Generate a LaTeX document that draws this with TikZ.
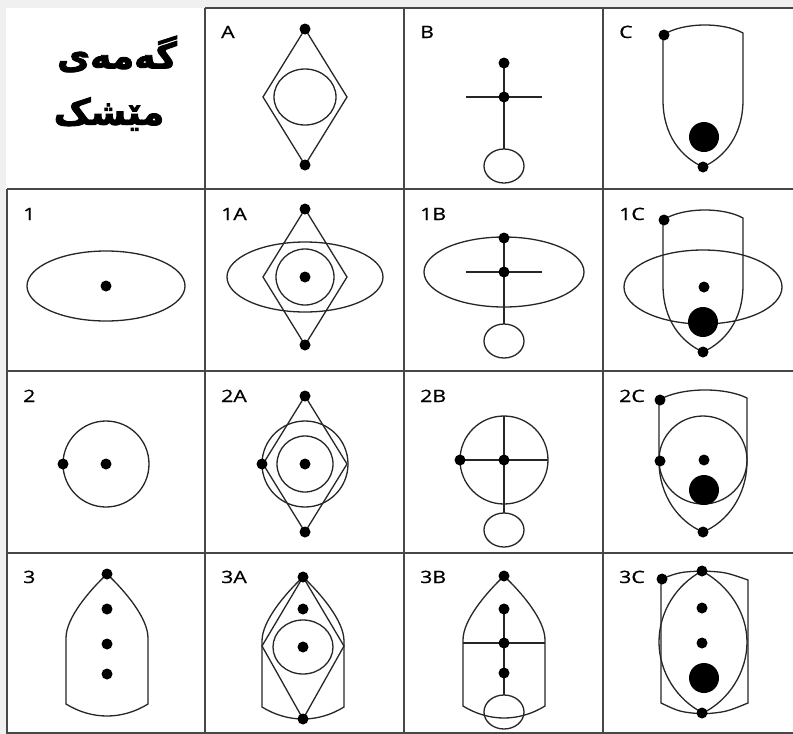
\documentclass[tikz,border=0pt]{standalone}
\usepackage{fontspec}
\setsansfont{Open Sans}
\newfontfamily\labfont[FakeStretch=1.25,FakeBold=0.6]{Open Sans}
\newfontfamily\arabicfont[Script=Arabic,FakeBold=2.5]{DejaVu Sans}
\TeXXeTstate=1
\usetikzlibrary{positioning}

\tikzset{
  pics/shield/.style={code={
    \draw[outline] ({-#1},-132) -- ({-#1},{-#1-27})
      .. controls ({-#1},{-#1+8}) and ({-#1/2-2},-10) .. (0,0)
      .. controls ({#1/2+2},-10) and ({#1},{-#1+8}) .. ({#1},{-#1-27})
      -- ({#1},-134) .. controls ({#1/2},-145) and ({-#1/2},-145) .. cycle;
  }},
  pics/shield/.default=40,
  pics/arch/.style={code={
    \draw[outline] (0,-142) .. controls (-18,-125) and (-41,-98) .. (-41,-78)
      -- (-41,-12) .. controls (-15,4) and (15,4) .. (41,-12)
      -- (41,-78) .. controls (41,-98) and (18,-125) .. cycle;
  }},
  pics/kite/.style={code={
    \draw[outline] (0,-68) -- (-42,0) -- (0,68) -- (42,0) -- cycle;
    \fill[dot] (0,-68) circle;
    \fill[dot] (0,68) circle;
  }},
  pics/stick/.style={code={
    \draw[outline] (-38,0) -- (38,0);
    \draw[outline] (0,-34) -- (0,52);
    \draw[outline] (0,69) circle[x radius=20, y radius=17];
    \fill[dot] (0,-34) circle;
    \fill[dot] (0,0) circle;
  }}
}

\begin{document}
\begin{tikzpicture}[
  x=1pt, y=-1pt,
  grid/.style={line width=1.3pt, black!72},
  outline/.style={line width=1.3pt, black!85},
  dot/.style={fill=black, radius=5.5},
  bigdot/.style={fill=black, radius=15},
  celltag/.style={font=\labfont\fontsize{17}{17}\selectfont, anchor=base west, inner sep=0pt},
  title/.style={font=\arabicfont\bfseries\fontsize{36}{40}\selectfont, inner sep=0pt}
]
\useasboundingbox (0,0) rectangle (793,734);
\fill[black!6] (0,0) rectangle (793,734);
\fill[white] (6,8) rectangle (793,734);

% table rules
\draw[grid] (205,8) -- (793,8);
\foreach \y in {189,371,553,733}
  \draw[grid] (7,\y) -- (793,\y);
\draw[grid] (7,189) -- (7,734);
\foreach \x in {205,404,603}
  \draw[grid] (\x,8) -- (\x,734);

% title
\node[title] (titleTop) at (117,54) {\beginR گەمەی\endR};
\node[title] (titleBot) at (109,114) {\beginR مێشک\endR};

% cell tags
\node[celltag] (tagA) at (221,38) {A};
\node[celltag] (tagB) at (420,38) {B};
\node[celltag] (tagC) at (619,38) {C};
\node[celltag] (tag1) at (23,220) {1};
\node[celltag] (tag1A) at (221,220) {1A};
\node[celltag] (tag1B) at (420,220) {1B};
\node[celltag] (tag1C) at (619,220) {1C};
\node[celltag] (tag2) at (23,402) {2};
\node[celltag] (tag2A) at (221,402) {2A};
\node[celltag] (tag2B) at (420,402) {2B};
\node[celltag] (tag2C) at (619,402) {2C};
\node[celltag] (tag3) at (23,583) {3};
\node[celltag] (tag3A) at (221,583) {3A};
\node[celltag] (tag3B) at (420,583) {3B};
\node[celltag] (tag3C) at (619,583) {3C};

% row 0
\pic at (305,97) {kite};
\draw[outline] (305,97) circle[x radius=31, y radius=28];
\pic at (504,97) {stick};
\pic at (703,167) {shield};
\fill[dot] (703,167) circle;
\fill[dot] (664,35) circle;
\fill[bigdot] (704,137) circle;

% row 1
\draw[outline] (106,286) circle[x radius=79, y radius=35];
\fill[dot] (106,286) circle;
\draw[outline] (305,277) circle[x radius=78, y radius=35];
\draw[outline] (305,277) circle[x radius=29, y radius=28];
\pic at (305,277) {kite};
\fill[dot] (305,277) circle;
\draw[outline] (504,272) circle[x radius=80, y radius=35];
\pic at (504,272) {stick};
\pic at (703,352) {shield};
\draw[outline] (703,287) circle[x radius=79, y radius=37];
\fill[dot] (703,352) circle;
\fill[dot] (664,220) circle;
\fill[dot] (704,287) circle;
\fill[bigdot] (703,322) circle;

% row 2
\draw[outline] (106,464) circle[radius=43];
\fill[dot] (63,464) circle;
\fill[dot] (106,464) circle;
\draw[outline] (305,464) circle[radius=43];
\draw[outline] (305,464) circle[radius=28];
\pic at (305,464) {kite};
\fill[dot] (262,464) circle;
\fill[dot] (305,464) circle;
\draw[outline] (504,460) circle[radius=44];
\draw[outline] (460,460) -- (548,460);
\draw[outline] (504,416) -- (504,513);
\draw[outline] (504,530) circle[x radius=20, y radius=17];
\fill[dot] (460,460) circle;
\fill[dot] (504,460) circle;
\pic at (703,532) {shield=44};
\draw[outline] (703,460) circle[radius=44];
\fill[dot] (703,532) circle;
\fill[dot] (660,400) circle;
\fill[dot] (660,461) circle;
\fill[dot] (704,460) circle;
\fill[bigdot] (704,490) circle;

% row 3
\pic at (107,716) {arch};
\foreach \y in {574,609,644,674}
  \fill[dot] (107,\y) circle;
\pic at (303,719) {arch};
\draw[outline] (303,577) -- (262,646) -- (303,719) -- (344,646) -- cycle;
\draw[outline] (303,647) circle[x radius=30, y radius=27];
\foreach \y in {577,609,647,719}
  \fill[dot] (303,\y) circle;
\pic at (504,718) {arch};
\draw[outline] (463,643) -- (545,643);
\draw[outline] (504,609) -- (504,695);
\draw[outline] (504,712) circle[x radius=20, y radius=17];
\foreach \y in {576,609,643,673}
  \fill[dot] (504,\y) circle;
\draw[outline] (661,579) -- (661,703) .. controls (680,712) .. (703,714)
  .. controls (726,712) .. (748,703) -- (748,580)
  .. controls (725,572) .. (702,571) .. controls (680,572) .. cycle;
\draw[outline] (702,571) .. controls (676,585) and (659,612) .. (659,642)
  .. controls (659,672) and (677,700) .. (703,713)
  .. controls (729,700) and (747,672) .. (747,642)
  .. controls (747,612) and (728,585) .. cycle;
\foreach \y in {571,608,643,713}
  \fill[dot] (702,\y) circle;
\fill[dot] (662,579) circle;
\fill[bigdot] (704,678) circle;
\end{tikzpicture}
\end{document}
